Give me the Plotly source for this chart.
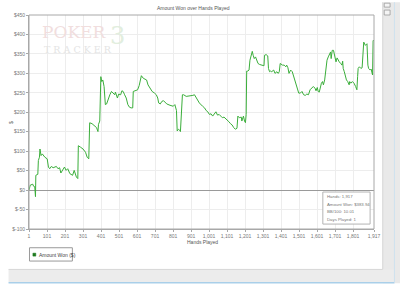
import plotly.graph_objects as go

# ---- data ----
hands = [1, 8, 22, 26, 33, 37, 39, 50, 53, 59, 62, 68, 75, 89, 102, 109, 116, 125, 135, 153,
         162, 171, 178, 185, 198, 207, 216, 228, 243, 252, 264, 272, 275, 288, 301, 315, 324, 333, 338, 351,
         366, 376, 384, 387, 394, 400, 405, 411, 418, 422, 425, 432, 441, 450, 459, 468, 477, 481, 492, 499,
         510, 517, 524, 532, 541, 550, 559, 568, 577, 580, 591, 604, 613, 618, 625, 636, 643, 654, 662, 672,
         685, 698, 708, 716, 721, 730, 739, 748, 757, 766, 784, 802, 811, 817, 820, 824, 831, 838, 842, 853,
         860, 874, 893, 911, 920, 929, 938, 947, 965,
         976, 985, 994, 1003, 1012, 1021, 1030, 1039, 1048, 1057, 1066, 1075, 1084, 1093, 1102, 1111, 1120, 1129, 1138, 1147,
         1156, 1161, 1169, 1180, 1183, 1187, 1192, 1198, 1203, 1207, 1210, 1216, 1223, 1228, 1234, 1241, 1246, 1252, 1259, 1266,
         1273, 1282, 1295, 1306, 1309, 1318, 1327, 1331, 1337, 1342, 1349, 1360, 1367, 1378, 1385, 1391, 1396, 1409, 1418, 1427,
         1432, 1439, 1445, 1454, 1463, 1472, 1481, 1490, 1499, 1508, 1517, 1526, 1535, 1544, 1553, 1562, 1571, 1580, 1589, 1595,
         1602, 1607, 1613, 1620, 1625, 1631, 1636, 1643, 1649, 1656, 1663, 1669, 1676, 1679, 1685, 1692, 1697, 1703, 1706, 1712,
         1717, 1724, 1732, 1739, 1743, 1746, 1752, 1757, 1764, 1771, 1779, 1782, 1788, 1797, 1806, 1815, 1822, 1826, 1829, 1836,
         1844, 1851, 1860, 1869, 1878, 1883, 1887, 1896, 1901, 1909, 1912, 1917]

amount_won = [0, 12.7, 15.2, 10.1, 8.5, -16.9, 38, 40.6, 76, 84.5, 105.6, 88.7, 93, 84.5, 80.3, 59.2, 54.9, 60.8, 57.5, 60.8,
              54.9, 57.5, 43.9, 49, 59.2, 50.7, 54.9, 42.3, 38, 50.7, 33.8, 29.6, 114, 110, 105.6, 97.2, 84.5, 80.3, 173, 170.7,
              164.8, 160.6, 150.4, 169, 177.5, 291.5, 278.9, 283, 266, 228, 219.7, 221.4, 236.6, 245, 253.5, 249.3, 245, 251.8, 236.6, 246.7,
              245, 255.2, 253.5, 245, 236.6, 219.7, 213, 211.3, 211.3, 253.5, 255.2, 257.7, 268.7, 283, 294, 287.3, 285.6, 283, 270.4, 263.6,
              253.5, 249.3, 245, 236.6, 224, 221.4, 228, 229.8, 226.5, 221.4, 218, 215.5, 219.7, 211.3, 204.5, 152, 156.3, 153.8, 150.4, 245,
              245, 240.8, 241.7, 243.4, 245, 236.6, 229.8, 224, 215.5,
              211.3, 204.5, 201.2, 194.4, 196.1, 190.2, 194.4, 201.2, 192.7, 194.4, 190.2, 186, 187.6, 184.3, 179.2, 175.8, 170.7, 167.4, 160.6, 156.4,
              158.9, 190.2, 186, 187.6, 177.5, 186, 190.2, 177.5, 173.3, 194.4, 305.9, 305.9, 308.5, 333.8, 346.5, 356.6, 346.5, 338, 342.3, 331.3,
              325.4, 322.8, 321.2, 319.5, 346.5, 348.2, 344.8, 312.7, 304.3, 305.9, 304.3, 308.5, 300, 304.3, 300, 304.3, 325.4, 321.2, 321.2, 316.9,
              321.2, 314.4, 300, 308.5, 304.3, 291.6, 274.7, 262, 249.3, 249.3, 253.5, 245.1, 243.4, 246.8, 245.1, 257.8, 262, 266.2, 262, 255.2,
              263.7, 253.5, 251.9, 266.2, 274.7, 278.9, 270.5, 283.1, 308.5, 333.8, 342.3, 350.7, 355, 338, 359.2, 359.2, 346.5, 333.8, 329.6, 339.7,
              333.8, 329.6, 325.4, 321.2, 331.3, 312.7, 304.3, 295.8, 283.1, 278.9, 270.5, 278.9, 274.7, 278.9, 274.7, 266.2, 257.8, 291.6, 312.7, 316.9,
              312.7, 314.4, 380.3, 371.9, 376.1, 321.2, 312.7, 308.5, 311, 295.8, 384.5, 383.94]

x_tickvals = [1, 101, 201, 301, 401, 501, 601, 701, 801, 901, 1001, 1101, 1201, 1301, 1401, 1501, 1601, 1701, 1801, 1917]
x_ticktext = ["1", "101", "201", "301", "401", "501", "601", "701", "801", "901", "1,001", "1,101", "1,201",
              "1,301", "1,401", "1,501", "1,601", "1,701", "1,801", "1,917"]
y_tickvals = [-100, -50, 0, 50, 100, 150, 200, 250, 300, 350, 400, 450]
y_ticktext = ["$-100", "$-50", "$0", "$50", "$100", "$150", "$200", "$250", "$300", "$350", "$400", "$450"]

title_text = "Amount Won over Hands Played"
x_title = "Hands Played"
y_title = "$"
legend_label = "Amount Won ($)"
info_lines = ["Hands: 1,917", "Amount Won: $383.94", "BB/100: 10.01", "Days Played: 1"]

# ---- layout helpers (pixel -> paper) ----
W, H = 400, 286
L, R, T, B = 20, 374, 12, 229
PW, PH = R - L, B - T


def px(x):
    return (x - L) / PW


def py(y):
    return (B - y) / PH


FONT = "Liberation Sans, Arial, sans-serif"
LINE_GREEN = "#3aae3a"

fig = go.Figure()
fig.add_trace(go.Scatter(x=hands, y=amount_won, mode="lines",
                         line=dict(color=LINE_GREEN, width=1), showlegend=False,
                         hoverinfo="skip"))

shapes = []
# right gray sidebar
shapes.append(dict(type="rect", xref="paper", yref="paper", x0=px(383), x1=px(401), y0=py(284), y1=py(-1),
                   fillcolor="#e9e9e9", line=dict(width=0), layer="below"))
shapes.append(dict(type="line", xref="paper", yref="paper", x0=px(383), x1=px(383), y0=py(270), y1=py(-1),
                   line=dict(color="#d4d4d4", width=1), layer="below"))
# bottom gray strip
shapes.append(dict(type="rect", xref="paper", yref="paper", x0=px(-1), x1=px(395), y0=py(283), y1=py(270),
                   fillcolor="#ececec", line=dict(width=0), layer="below"))
shapes.append(dict(type="line", xref="paper", yref="paper", x0=px(-1), x1=px(383), y0=py(270), y1=py(270),
                   line=dict(color="#d6d6d6", width=1), layer="below"))
# blue frame line at the bottom
shapes.append(dict(type="line", xref="paper", yref="paper", x0=px(-1), x1=px(395), y0=py(283.5), y1=py(283.5),
                   line=dict(color="#a9cfe9", width=1.5), layer="below"))
shapes.append(dict(type="line", xref="paper", yref="paper", x0=px(395), x1=px(395), y0=py(283.5), y1=py(-1),
                   line=dict(color="#cfe2ef", width=1), layer="below"))
# sidebar icons
for y0, y1 in [(0, 4), (7, 12)]:
    shapes.append(dict(type="rect", xref="paper", yref="paper", x0=px(384.5), x1=px(390.5), y0=py(y1), y1=py(y0),
                       fillcolor="#f4f4f4", line=dict(color="#9a9a9a", width=0.8)))
# plot border
shapes.append(dict(type="rect", xref="paper", yref="paper", x0=0, x1=1, y0=0, y1=1,
                   line=dict(color="#a8a8a8", width=1), fillcolor="rgba(0,0,0,0)"))
# legend box
shapes.append(dict(type="rect", xref="paper", yref="paper", x0=px(20.5), x1=px(64.5), y0=py(261.5), y1=py(248),
                   fillcolor="white", line=dict(color="#9a9a9a", width=1)))
shapes.append(dict(type="rect", xref="paper", yref="paper", x0=px(24), x1=px(27), y0=py(256.5), y1=py(253.5),
                   fillcolor="#1e7a1e", line=dict(color="#1e7a1e", width=0.5)))
# info box
shapes.append(dict(type="rect", xref="paper", yref="paper", x0=px(321.5), x1=px(370), y0=py(224), y1=py(191.5),
                   fillcolor="white", line=dict(color="#b4b4b4", width=1)))

annotations = []
# watermark
annotations.append(dict(text="POKER", xref="paper", yref="paper", x=px(31), y=py(29), xanchor="left", yanchor="middle",
                        showarrow=False, font=dict(family="DejaVu Serif, serif", size=17, color="#f1dede")))
annotations.append(dict(text="3", xref="paper", yref="paper", x=px(101), y=py(33), xanchor="left", yanchor="middle",
                        showarrow=False, font=dict(family="DejaVu Serif, serif", size=24, color="#e2eede")))
annotations.append(dict(text="T R A C K E R", xref="paper", yref="paper", x=px(33), y=py(46.5), xanchor="left",
                        yanchor="middle", showarrow=False,
                        font=dict(family="DejaVu Serif, serif", size=9.5, color="#e4e4e4")))
# title and axis titles
annotations.append(dict(text=title_text, xref="paper", yref="paper", x=px(188.5), y=py(4.5), xanchor="center",
                        yanchor="middle", showarrow=False, font=dict(family=FONT, size=5, color="#555555")))
annotations.append(dict(text=x_title, xref="paper", yref="paper", x=px(198), y=py(242), xanchor="center",
                        yanchor="middle", showarrow=False, font=dict(family=FONT, size=5, color="#555555")))
annotations.append(dict(text=y_title, xref="paper", yref="paper", x=px(2), y=py(121), xanchor="center",
                        yanchor="middle", showarrow=False, textangle=-90,
                        font=dict(family=FONT, size=5, color="#555555")))
# legend text
annotations.append(dict(text=legend_label, xref="paper", yref="paper", x=px(28.5), y=py(255), xanchor="left",
                        yanchor="middle", showarrow=False, font=dict(family=FONT, size=5, color="#444444")))
# info text
for i, line in enumerate(info_lines):
    annotations.append(dict(text=line, xref="paper", yref="paper", x=px(323.5), y=py(196 + i * 7.7), xanchor="left",
                            yanchor="middle", showarrow=False, font=dict(family=FONT, size=4.3, color="#777777")))

fig.update_layout(
    width=W, height=H, autosize=False,
    margin=dict(l=L, r=W - R, t=T, b=H - B, pad=0),
    paper_bgcolor="white", plot_bgcolor="white",
    font=dict(family=FONT, size=5, color="#666666"),
    showlegend=False,
    shapes=shapes, annotations=annotations,
    xaxis=dict(range=[1, 1917], tickmode="array", tickvals=x_tickvals, ticktext=x_ticktext,
               showgrid=True, gridcolor="#ededed", gridwidth=1, zeroline=False,
               showline=True, linecolor="#a8a8a8", linewidth=1, mirror=False,
               ticks="outside", ticklen=2, tickcolor="#a8a8a8", tickfont=dict(size=5, color="#777777"),
               fixedrange=True),
    yaxis=dict(range=[-100, 450], tickmode="array", tickvals=y_tickvals, ticktext=y_ticktext,
               showgrid=True, gridcolor="#ededed", gridwidth=1,
               zeroline=True, zerolinecolor="#9a9a9a", zerolinewidth=1,
               showline=True, linecolor="#a8a8a8", linewidth=1,
               ticks="outside", ticklen=2, tickcolor="#a8a8a8", tickfont=dict(size=5, color="#777777"),
               fixedrange=True),
)

fig.write_html("out.html", config=dict(displayModeBar=False))
